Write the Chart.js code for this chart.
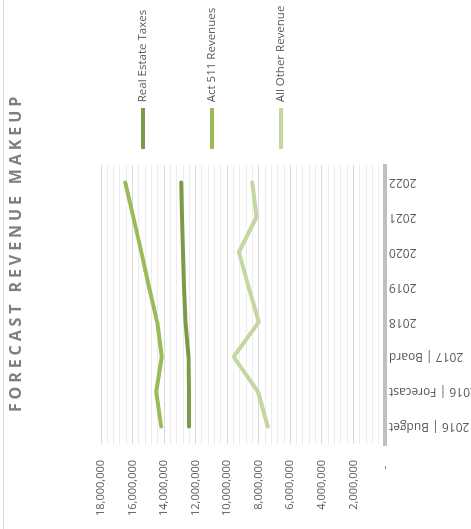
<!DOCTYPE html>
<html>
<head>
<meta charset="utf-8">
<script src="https://cdn.jsdelivr.net/npm/chart.js@4/dist/chart.umd.min.js"></script>
<style>
  html, body { margin: 0; padding: 0; background: #fff; }
  #wrap { position: relative; width: 471px; height: 529px; overflow: hidden; }
  #edge { position: absolute; left: 3px; top: 0; width: 1px; height: 529px; background: #d9d9d9; }
  #chart { position: absolute; left: 0; top: 0; transform-origin: 0 0; transform: translateY(529px) rotate(-90deg); }
</style>
</head>
<body>
<div id="wrap">
  <div id="edge"></div>
  <canvas id="chart" width="529" height="471"></canvas>
</div>
<script>
const categories = ['2016 | Budget', '2016 | Forecast', '2017 | Board', '2018', '2019', '2020', '2021', '2022'];
const realEstateTaxes = [12420000, 12420000, 12450000, 12640000, 12740000, 12800000, 12870000, 12920000];
const act511Revenues = [14190000, 14500000, 14150000, 14440000, 14960000, 15440000, 15950000, 16460000];
const allOtherRevenue = [7430000, 8050000, 9590000, 8000000, 8640000, 9260000, 8150000, 8410000];
const valueMax = 18000000;
const minorStep = 400000;
const majorStep = 2000000;

const FONT = "'Open Sans', 'Liberation Sans', sans-serif";
const TEXT = '#595959';

// the reference title is letter-spaced and sits a bit right of centre,
// chart.js title has no option for either
const spacedTitle = {
  id: 'spacedTitle',
  beforeDraw(chart) {
    const t = chart.titleBlock;
    if (!t || t._spaced) return;
    const draw = t.draw.bind(t);
    t.draw = (area) => {
      const ctx = chart.ctx;
      ctx.save();
      ctx.translate(12, 0);
      ctx.letterSpacing = '3.9px';
      draw(area);
      ctx.restore();
      ctx.letterSpacing = '0px';
    };
    t._spaced = true;
  }
};

function line(label, data, color) {
  return {
    label, data,
    borderColor: color, backgroundColor: color,
    borderWidth: 4, borderCapStyle: 'round', borderJoinStyle: 'round',
    pointRadius: 0, tension: 0, fill: false,
  };
}

new Chart(document.getElementById('chart'), {
  type: 'line',
  data: {
    labels: categories,
    datasets: [
      line('Real Estate Taxes', realEstateTaxes, '#7d9b46'),
      line('Act 511 Revenues', act511Revenues, '#9bbb59'),
      line('All Other Revenue', allOtherRevenue, '#c4d7a0'),
    ],
  },
  plugins: [spacedTitle],
  options: {
    responsive: false,
    animation: false,
    layout: { padding: 0 },
    plugins: {
      tooltip: { enabled: false },
      title: {
        display: true,
        text: 'FORECAST REVENUE MAKEUP',
        color: '#7f7f7f',
        font: { family: FONT, size: 16, weight: 'bold', lineHeight: '20px' },
        padding: { top: 6, bottom: 75 },
      },
      legend: {
        position: 'right',
        align: 'start',
        fullSize: false,
        maxWidth: 165,
        title: { display: true, text: ' ', font: { size: 1, lineHeight: '20.25px' }, padding: 0 },
        labels: {
          usePointStyle: true,
          pointStyle: 'line',
          pointStyleWidth: 41,
          padding: 16,
          color: TEXT,
          font: { family: FONT, size: 11.5, lineHeight: '53px' },
          generateLabels(chart) {
            const items = Chart.defaults.plugins.legend.labels.generateLabels(chart);
            items.forEach(it => { it.text = [it.text + ' '.repeat(16)]; });
            return items;
          },
        },
      },
    },
    scales: {
      x: {
        offset: true,
        grid: { display: false, drawTicks: false },
        border: { display: true, color: '#bfbfbf', width: 4 },
        ticks: {
          color: TEXT, font: { family: FONT, size: 12 },
          minRotation: 90, maxRotation: 90, padding: 4, autoSkip: false,
        },
        afterFit(scale) { scale.height = 86; },
      },
      y: {
        min: 0,
        max: valueMax,
        border: { display: false },
        grid: {
          drawTicks: false,
          color: (c) => c.tick.value === 0 ? 'rgba(0,0,0,0)' : (c.tick.value % majorStep === 0 ? '#d9d9d9' : '#ececec'),
          lineWidth: 1,
        },
        ticks: {
          stepSize: minorStep,
          autoSkip: false,
          padding: 16,
          color: TEXT,
          font: { family: FONT, size: 11 },
          callback: (v) => v % majorStep !== 0 ? '' : (v === 0 ? '-  ' : v.toLocaleString('en-US')),
        },
        afterFit(scale) { scale.width = 85; },
      },
    },
  },
});
</script>
</body>
</html>
